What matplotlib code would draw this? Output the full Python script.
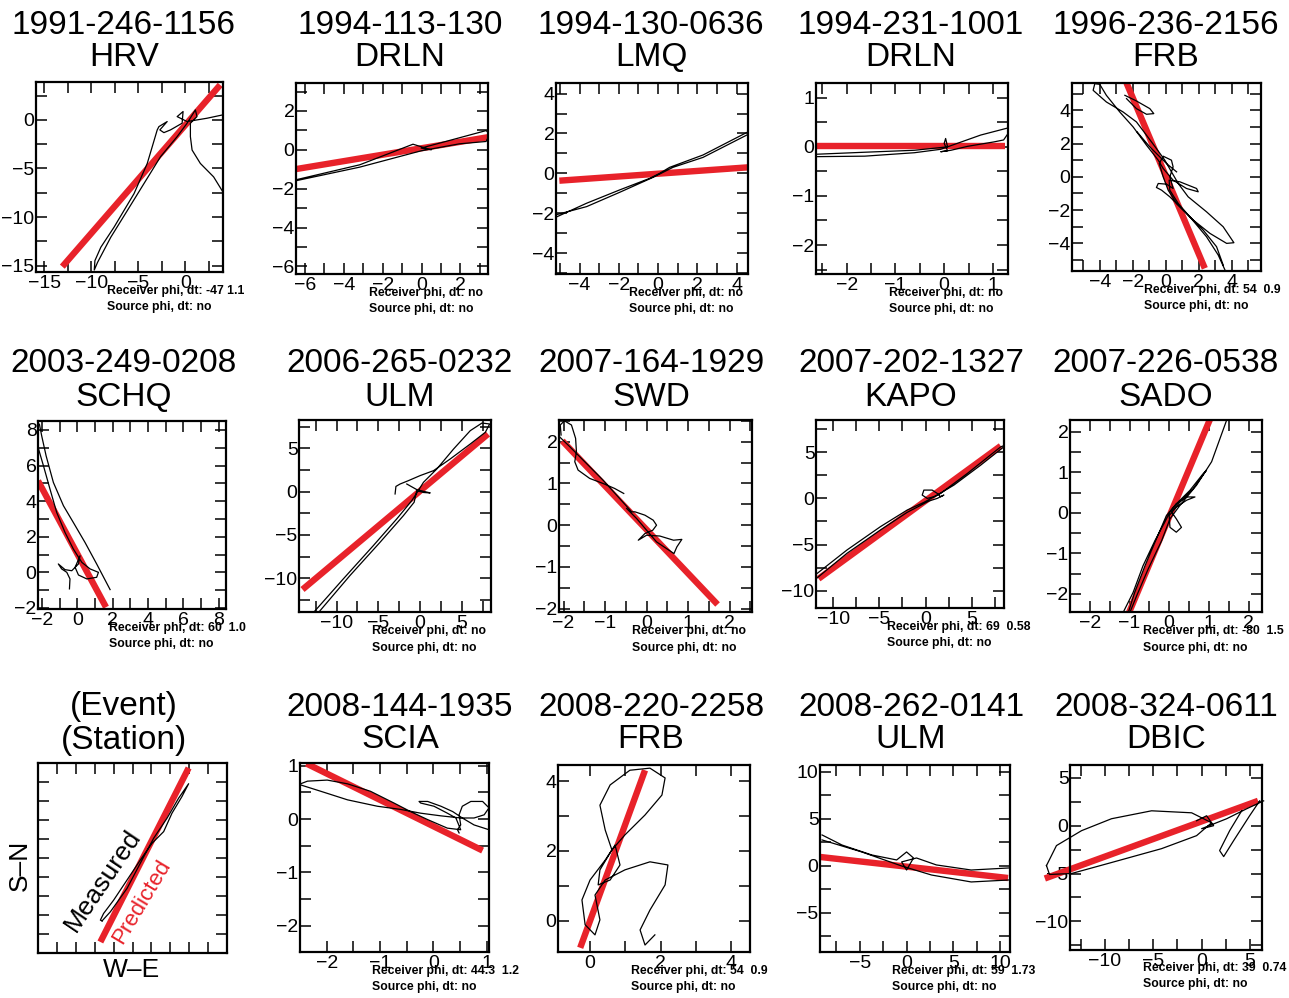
import numpy as np
import matplotlib
matplotlib.use("Agg")
import matplotlib.pyplot as plt
from matplotlib.ticker import MultipleLocator, NullFormatter

nan = np.nan

# ---------------- data ----------------
EVENTS = ["1991-246-1156", "1994-113-130", "1994-130-0636", "1994-231-1001", "1996-236-2156",
          "2003-249-0208", "2006-265-0232", "2007-164-1929", "2007-202-1327", "2007-226-0538",
          "(Event)", "2008-144-1935", "2008-220-2258", "2008-262-0141", "2008-324-0611"]
STATIONS = ["HRV", "DRLN", "LMQ", "DRLN", "FRB",
            "SCHQ", "ULM", "SWD", "KAPO", "SADO",
            "(Station)", "SCIA", "FRB", "ULM", "DBIC"]
RECEIVER = ["-47 1.1", "no", "no", "no", "54  0.9",
            "60  1.0", "no", "no", "69  0.58", "-80  1.5",
            None, "44.3  1.2", "54  0.9", "59  1.73", "39  0.74"]
SOURCE = "no"

XLIMS = [(-15.9, 4.0), (-6.46, 3.42), (-5.2, 4.58), (-2.63, 1.31), (-5.68, 5.76),
         (-2.23, 8.41), (-14.5, 8.48), (-2.11, 2.54), (-11.88, 8.51), (-2.5, 2.34),
         (0, 10), (-2.5, 1.04), (-0.91, 4.54), (-9.26, 11.06), (-13.6, 6.24)]
YLIMS = [(-15.65, 3.9), (-6.39, 3.44), (-5.05, 4.53), (-2.59, 1.30), (-5.66, 5.64),
         (-2.06, 8.5), (-13.9, 8.27), (-2.08, 2.52), (-11.87, 8.49), (-2.45, 2.29),
         (0, 10), (-2.49, 1.05), (-0.89, 4.46), (-9.15, 10.74), (-13.0, 6.35)]
MAJOR = [5, 2, 2, 1, 2, 2, 5, 1, 5, 1, 1, 1, 2, 5, 5]
MINOR = [2.5, 1, 1, 0.5, 1, 1, 2.5, 0.5, 2.5, 0.5, 1, 0.5, 1, 2.5, 2.5]

# predicted (red) directions: end points
RED_X = [(-13.1, 3.7), (-6.46, 3.42), (-5.03, 4.58), (-2.63, 1.25), (-2.38, 2.36),
         (-2.23, 1.62), (-14.08, 8.12), (-2.03, 1.71), (-11.6, 8.15), (-1.01, 1.03),
         (3.3, 7.97), (-2.38, 0.92), (-0.28, 1.56), (-9.26, 10.85), (-16.2, 5.83)]
RED_Y = [(-15.1, 3.6), (-0.99, 0.65), (-0.37, 0.30), (0.02, 0.02), (5.64, -5.5),
         (5.14, -1.96), (-11.3, 6.65), (2.02, -1.9), (-8.7, 5.68), (-2.46, 2.31),
         (0.58, 9.74), (1.04, -0.59), (-0.77, 4.31), (0.96, -1.28), (-5.52, 2.6)]

# measured particle motion (black)
P1_MX = [3.99, 2.29, 0.18, -0.88, -0.25, -0.35, -1.59, -2.29, -2.72, -1.94, -2.82, -3.0, -4.06, -5.47,
         -7.59, -9.0, -9.63, -9.70, -9.35, -7.94, -6.17, -4.41, -2.65, -0.88, 0.18, 1.06, 1.23, 0.53,
         0.53, 0.71, 1.59, 3.0, 3.99]
P1_MY = [0.52, 0.17, -0.17, 0.34, 0.86, -0.34, -1.03, -1.31, -1.03, -0.17, -0.69, -1.03, -4.48, -7.59,
         -11.03, -13.1, -14.48, -15.45, -14.66, -12.07, -9.31, -6.55, -3.79, -1.72, -0.34, 1.03, 0.34, -0.34,
         -1.72, -3.10, -4.48, -5.86, -7.41]

P2_MX = [-6.46, -3.18, -0.44, 0.50, -0.02, 3.32, 3.52, 3.32, 1.95, -0.02, -3.18, -6.46]
P2_MY = [-1.54, -0.77, 0.29, 0.0, 0.09, 0.99, 0.82, 0.43, 0.31, -0.05, -0.89, -1.59]

P3_MX = [-5.2, -3.64, -1.95, -0.42, 0.08, 0.59, 2.29, 4.58, 4.58, 2.29, 0.76, -0.25, -1.95, -3.64, -5.2]
P3_MY = [-2.2, -1.5, -0.83, -0.25, 0.0, 0.3, 0.92, 2.08, 1.95, 0.8, 0.3, -0.2, -0.95, -1.67, -2.08]

P4_MX = [-2.6, -1.63, -0.61, -0.07, 0.07, 0.03, 0.0, 0.07, -0.07, 0.14, 0.48, 1.02, 1.22, 1.31, 1.33,
         0.75, 0.07, -0.61, -1.63, -2.6]
P4_MY = [-0.2, -0.19, -0.12, -0.05, 0.0, 0.17, 0.07, -0.08, -0.1, -0.07, 0.01, 0.1, 0.14, 0.27, 0.39,
         0.24, 0.0, -0.07, -0.11, -0.15]

P5_MX = [3.58, 3.17, 2.46, 1.45, 0.75, 0.24, 0.2, 0.85, 1.86, 1.96, 1.25, 0.44, -0.16, -0.46, -1.17,
         -1.98, -2.79, -3.6, -4.0, -4.3, -4.4, -3.6, -2.59, -1.78, -1.17, -0.57, -0.06, 0.34, 0.75, 1.35,
         2.46, 3.47, 4.12, 3.68, 2.67, 1.66, 0.95, 0.24, -0.26, -0.57, -0.46, 0.04, 0.44, 0.24, 0.44,
         0.34, -0.16, -0.4, -0.16, 0.14, 0.65, 1.25, 2.26, 3.07, 3.47, nan,
         -2.48, -1.78, -0.97, -0.73, -1.17, -1.78, -2.38, nan,
         -1.74, -0.97, 0.04, 0.65]
P5_MY = [-5.6, -4.7, -3.6, -2.4, -1.6, -0.8, -0.2, -0.3, -0.7, -0.9, -0.7, -0.2, 0.5, 1.0, 1.9,
         3.0, 3.9, 4.9, 5.56, 5.6, 5.2, 4.5, 3.9, 3.3, 2.5, 1.7, 1.0, 0.3, -0.4, -1.2,
         -2.1, -3.0, -3.96, -4.0, -3.4, -2.6, -1.9, -1.2, -0.8, -0.64, -0.4, -0.44, -0.7, 0.0, 0.6,
         1.0, 1.24, 0.8, 0.0, -0.8, -1.6, -2.2, -3.2, -4.2, -5.3, nan,
         4.9, 4.56, 4.1, 3.8, 3.76, 4.1, 4.7, nan,
         2.7, 1.8, 0.8, 0.3]

P6_MX = [-2.15, -2.02, -1.77, -1.36, -0.79, -0.23, 0.43, 1.09, 1.85, nan,
         -2.25, -1.92, -1.55, -1.17, -0.70, -0.23, 0.25, 0.72, 1.19, 1.09, 0.53, 0.06, -0.13, 0.15,
         0.06, -0.32, -0.70, -1.08, -0.89, -0.6, -0.42, -0.45]
P6_MY = [8.32, 7.66, 6.54, 5.05, 3.74, 2.80, 1.68, 0.47, -0.97, nan,
         7.1, 5.98, 4.67, 3.36, 2.24, 1.31, 0.56, 0.19, 0.0, -0.28, -0.37, -0.15, 0.28, 0.93,
         0.47, 0.09, 0.15, 0.47, 0.19, 0.0, -0.37, -0.93]

P7_MX = [-12.8, -9.2, -5.6, -2.8, -1.0, -0.4, 0.4, 2.0, 4.0, 6.0, 7.4, 8.32, 7.8, 6.0, 3.6, 1.6, 0.0,
         -1.4, -2.4, -2.9, -3.0, nan,
         -1.6, -0.4, 1.2, 0.4, -0.4, -0.72, -2.0, -4.8, -8.4, -12.2]
P7_MY = [-14.0, -10.08, -6.23, -3.15, -1.04, -0.15, 1.08, 2.62, 4.92, 7.04, 7.92, 7.81, 6.85, 5.5, 3.77,
         2.42, 1.85, 1.27, 0.88, 0.6, -0.27, nan,
         0.88, 0.23, -0.15, -0.1, 0.12, -1.23, -2.77, -5.85, -9.69, -14.0]

P8_MX = [-2.06, -2.08, -1.98, -1.81, -1.71, -1.69, -1.73, -1.65, -1.37, -1.05, -0.77, -0.55, nan,
         -2.1, -1.85, -1.45, -1.05, -0.65, -0.36, -0.28, -0.04, 0.16, 0.24, 0.15, -0.04, -0.2, 0.0,
         0.32, 0.65, 0.85, 0.73, 0.66, 0.48, 0.24, 0.0, -0.24, -0.48]
P8_MY = [2.16, 2.4, 2.5, 2.4, 2.08, 1.76, 1.52, 1.32, 1.12, 1.0, 0.88, 0.76, nan,
         2.12, 1.88, 1.48, 1.08, 0.64, 0.32, 0.32, 0.24, 0.12, 0.0, -0.12, -0.2, -0.36, -0.24,
         -0.26, -0.36, -0.34, -0.52, -0.68, -0.56, -0.4, -0.12, 0.16, 0.4]

P9_MX = [-11.85, -8.51, -4.89, -1.99, -0.18, 1.27, 3.08, 5.98, 8.8, 8.15, 4.53, 1.63, 0.91, 0.18, -0.36,
         -0.18, 0.72, 1.27, 1.63, 1.99, 1.27, 0.36, -1.99, -4.89, -8.51, -11.78]
P9_MY = [-8.2, -5.58, -3.06, -1.26, -0.43, 0.36, 1.44, 3.6, 5.83, 5.58, 2.7, 0.54, 0.18, 0.0, 0.36,
         0.9, 0.9, 0.54, 0.18, 0.36, 0.0, -0.29, -1.51, -3.42, -5.94, -8.63]

P10_MX = [-1.16, -0.91, -0.66, -0.36, -0.11, 0.02, 0.18, 0.44, 0.65, 0.44, 0.18, 0.0, 0.02, 0.18, 0.31,
          0.18, 0.06, 0.27, 0.61, 0.94, 0.86, 0.52, 0.18, -0.07, -0.32, -0.61, -0.87, -1.03, nan,
          -0.99, -0.82, -0.53, -0.19, 0.02, 0.27, 0.69, 1.07, 1.45]
P10_MY = [-2.46, -1.97, -1.31, -0.69, -0.23, 0.02, 0.22, 0.39, 0.39, 0.31, 0.14, -0.07, -0.36, -0.48,
          -0.36, -0.15, 0.02, 0.26, 0.6, 1.05, 0.97, 0.55, 0.22, -0.07, -0.64, -1.31, -1.97, -2.46, nan,
          -2.46, -2.05, -1.39, -0.69, -0.15, 0.18, 0.68, 1.26, 2.29]

P11_MX = [3.39, 3.83, 4.71, 5.41, 6.12, 6.83, 7.44, 7.97, 7.62, 7.09, 6.65, 6.03, 5.41, 4.71, 4.0,
          3.47, 3.3, 3.39]
P11_MY = [1.69, 2.17, 3.4, 4.72, 6.04, 7.1, 8.15, 8.91, 8.24, 7.36, 6.39, 5.77, 4.89, 3.84, 2.78,
          2.08, 1.73, 1.69]

P12_MX = [-2.49, -2.36, -1.99, -1.61, -1.18, -0.74, -0.43, -0.11, 0.26, 0.51, 0.42, 0.26, 0.01, -0.24,
          -0.27, -0.11, 0.14, 0.36, 0.54, 0.76, 1.04, nan,
          -2.49, -2.11, -1.61, -1.05, -0.61, -0.24, 0.14, 0.51, 0.76, 0.95, 1.04, 0.92, 0.7, 0.54,
          0.48, 0.51, 0.45, 0.48]
P12_MY = [0.66, 0.71, 0.73, 0.66, 0.52, 0.3, 0.14, -0.01, -0.17, -0.2, 0.02, 0.11, 0.24, 0.3, 0.33,
          0.33, 0.24, 0.14, 0.02, -0.11, -0.2, nan,
          0.64, 0.52, 0.36, 0.24, 0.18, 0.11, 0.06, 0.02, 0.02, 0.08, 0.21, 0.33, 0.33, 0.24,
          0.08, -0.11, -0.2, -0.26]

P13_MX = [0.62, 0.43, 0.28, 0.57, 1.13, 1.7, 2.13, 2.04, 1.56, 0.99, 0.62, 0.28, 0.23, 0.57, 0.85,
          0.71, 0.43, 0.0, -0.23, -0.14, 0.14, 0.28, 0.14, 0.43, 0.99, 1.7, 2.21, 2.13, 1.7, 1.42,
          1.56, 1.84]
P13_MY = [2.03, 2.6, 3.31, 3.89, 4.31, 4.37, 4.09, 3.6, 3.03, 2.46, 2.03, 1.46, 1.03, 1.17, 1.6,
          2.17, 1.74, 1.17, 0.6, -0.11, -0.4, 0.03, 0.74, 1.17, 1.46, 1.69, 1.6, 1.03, 0.31, -0.26,
          -0.69, -0.4]

P14_MX = [-9.04, -6.91, -3.72, -1.06, 0.0, 0.74, 0.0, -0.53, 1.06, 3.19, 6.91, 10.96, nan,
          -9.04, -4.79, -0.53, 2.66, 6.91, 10.96]
P14_MY = [3.3, 2.23, 1.17, 0.64, 1.49, 0.85, -0.43, 0.43, 0.85, 0.11, -0.43, -0.21, nan,
          2.77, 1.49, 0.0, -0.96, -1.7, -1.49]

P15_MX = [-16.03, -15.0, -12.41, -9.31, -5.17, -1.03, 1.03, -0.52, -4.14, -9.31, -13.44, -15.72, -16.03,
          nan, -0.52, 0.52, 1.24, 0.0, 2.59, 4.65, 6.41, nan,
          4.14, 2.9, 1.86, 2.28, 3.31, 4.96, 6.0]
P15_MY = [-4.17, -2.08, -0.52, 0.73, 1.56, 1.35, 0.31, -1.04, -2.4, -3.85, -5.0, -5.1, -4.17,
          nan, 0.52, 1.04, 0.0, -0.31, 0.73, 1.77, 2.6, nan,
          1.56, -0.52, -2.6, -3.23, -1.56, 1.04, 2.6]

MEAS_X = [P1_MX, P2_MX, P3_MX, P4_MX, P5_MX, P6_MX, P7_MX, P8_MX, P9_MX, P10_MX,
          P11_MX, P12_MX, P13_MX, P14_MX, P15_MX]
MEAS_Y = [P1_MY, P2_MY, P3_MY, P4_MY, P5_MY, P6_MY, P7_MY, P8_MY, P9_MY, P10_MY,
          P11_MY, P12_MY, P13_MY, P14_MY, P15_MY]

# ---------------- layout (pixels: left, top, right, bottom) ----------------
W, H = 1289, 998
BOXES = [(36, 82, 223, 272), (296, 83, 488, 274), (556, 83, 748, 274), (816, 83, 1008, 274),
         (1072, 83, 1261, 271),
         (38, 421, 226, 609), (299, 420, 491, 612), (559, 420, 752, 612), (816, 420, 1004, 608),
         (1070, 420, 1262, 612),
         (38, 763, 227, 953), (300, 763, 489, 952), (558, 765, 750, 952), (820, 765, 1010, 952),
         (1070, 765, 1262, 950)]
TITLE_CX = [124, 400, 651, 911, 1166]
TITLE_Y = [(25, 57), (364, 397), (707, 740)]

RED = "#e8222a"
TICK_FONT = ["Liberation Sans", "DejaVu Sans"]
TITLE_FONT = ["Liberation Sans", "DejaVu Sans"]

plt.rcParams["font.family"] = TICK_FONT
plt.rcParams["axes.unicode_minus"] = True

fig = plt.figure(figsize=(W / 100, H / 100), dpi=100)

for i in range(15):
    l, t, r, b = BOXES[i]
    ax = fig.add_axes([l / W, 1 - b / H, (r - l) / W, (b - t) / H])
    ax.set_xlim(XLIMS[i])
    ax.set_ylim(YLIMS[i])
    ax.xaxis.set_major_locator(MultipleLocator(MAJOR[i]))
    ax.yaxis.set_major_locator(MultipleLocator(MAJOR[i]))
    ax.xaxis.set_minor_locator(MultipleLocator(MINOR[i]))
    ax.yaxis.set_minor_locator(MultipleLocator(MINOR[i]))
    ax.tick_params(which="both", direction="in", top=True, right=True,
                   length=8, width=1.1, labelsize=14, colors="black")
    ax.tick_params(axis="x", pad=2)
    ax.tick_params(axis="y", pad=1)
    for sp in ax.spines.values():
        sp.set_linewidth(1.6)
    clip = i != 14
    ax.plot(RED_X[i], RED_Y[i], color=RED, lw=4.6, solid_capstyle="butt", clip_on=clip, zorder=2)
    ax.plot(MEAS_X[i], MEAS_Y[i], color="black", lw=0.9, clip_on=clip, zorder=3)

    if i == 10:
        ax.xaxis.set_major_formatter(NullFormatter())
        ax.yaxis.set_major_formatter(NullFormatter())
        ax.text(3.44, 3.84, "Measured", rotation=56, ha="center", va="center",
                rotation_mode="anchor", fontsize=19, family=TITLE_FONT, color="black")
        ax.text(5.5, 2.69, "Predicted", rotation=59, ha="center", va="center",
                rotation_mode="anchor", fontsize=16, family=TITLE_FONT, color=RED)
    else:
        ax.text(0.38, -0.10, "Receiver phi, dt: " + RECEIVER[i], transform=ax.transAxes,
                ha="left", va="center", fontsize=8.8, fontweight="bold", family=TICK_FONT)
        ax.text(0.38, -0.185, "Source phi, dt: " + SOURCE, transform=ax.transAxes,
                ha="left", va="center", fontsize=8.8, fontweight="bold", family=TICK_FONT)

    row, col = divmod(i, 5)
    y1, y2 = TITLE_Y[row]
    fig.text(TITLE_CX[col] / W, 1 - y1 / H, EVENTS[i], ha="center", va="center",
             fontsize=24, family=TITLE_FONT)
    fig.text(TITLE_CX[col] / W, 1 - y2 / H, STATIONS[i], ha="center", va="center",
             fontsize=24, family=TITLE_FONT)

fig.text(20 / W, 1 - 865 / H, "S\u2013N", rotation=90, ha="center", va="center",
         fontsize=19, family=TITLE_FONT)
fig.text(132 / W, 1 - 970 / H, "W\u2013E", ha="center", va="center",
         fontsize=19, family=TITLE_FONT)

fig.savefig("out.png", dpi=100)
